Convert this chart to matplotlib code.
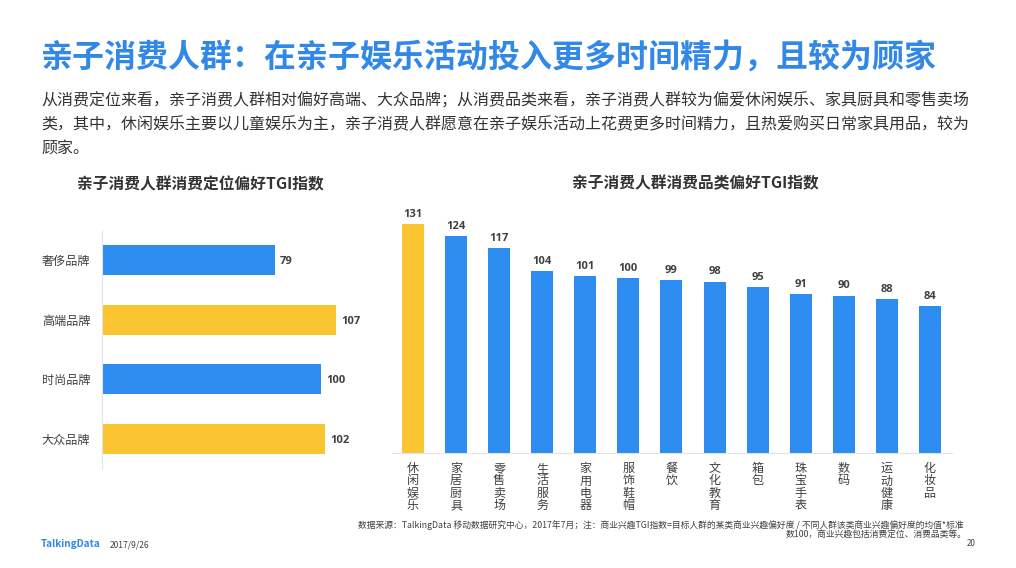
#!/usr/bin/env python
import matplotlib
matplotlib.use("Agg")
import matplotlib.pyplot as plt

plt.rcParams["font.family"] = ["Noto Sans CJK SC", "DejaVu Sans"]

W, H = 1016, 568

title = "亲子消费人群：在亲子娱乐活动投入更多时间精力，且较为顾家"
body_lines = [
    "从消费定位来看，亲子消费人群相对偏好高端、大众品牌；从消费品类来看，亲子消费人群较为偏爱休闲娱乐、家具厨具和零售卖场",
    "类，其中，休闲娱乐主要以儿童娱乐为主，亲子消费人群愿意在亲子娱乐活动上花费更多时间精力，且热爱购买日常家具用品，较为",
    "顾家。",
]
left_title = "亲子消费人群消费定位偏好TGI指数"
right_title = "亲子消费人群消费品类偏好TGI指数"

positions = ["奢侈品牌", "高端品牌", "时尚品牌", "大众品牌"]
position_tgi = [79, 107, 100, 102]
categories = ["休闲娱乐", "家居厨具", "零售卖场", "生活服务", "家用电器", "服饰鞋帽", "餐饮",
              "文化教育", "箱包", "珠宝手表", "数码", "运动健康", "化妆品"]
category_tgi = [131, 124, 117, 104, 101, 100, 99, 98, 95, 91, 90, 88, 84]

BLUE = "#2d8cf0"
YELLOW = "#fbc531"
AXIS = "#dfe4ee"
TEXT = "#404040"


def px_axes(fig, x0, y0, x1, y1):
    # pixel box, y measured from the top of the image
    return fig.add_axes([x0 / W, 1 - y1 / H, (x1 - x0) / W, (y1 - y0) / H])


def px_text(fig, x, y, s, **kw):
    kw.setdefault("va", "center")
    kw.setdefault("color", TEXT)
    fig.text(x / W, 1 - y / H, s, **kw)


fig = plt.figure(figsize=(W / 100, H / 100), dpi=100, facecolor="white")

px_text(fig, 41, 58, title, fontsize=23, color="#3288e6", fontweight="bold")
for y, line in zip([101, 125, 148], body_lines):
    px_text(fig, 41, y, line, fontsize=11.5, color="#333333")
px_text(fig, 200, 184, left_title, fontsize=11.3, fontweight="bold", ha="center", color="#333333")
px_text(fig, 695, 183, right_title, fontsize=11.3, fontweight="bold", ha="center", color="#333333")

# left chart
ax = px_axes(fig, 101.5, 230, 375, 469)
bars = ax.barh(range(len(positions)), position_tgi, height=0.5,
               color=[BLUE, YELLOW, BLUE, YELLOW])
ax.set_xlim(0, (375 - 101.5) / 2.19)
ax.set_ylim(len(positions) - 0.5, -0.5)
ax.set_yticks(range(len(positions)), positions, fontsize=8.7, color=TEXT)
ax.tick_params(axis="y", length=0, pad=8)
ax.set_xticks([])
ax.patch.set_visible(False)
for s in ["top", "right", "bottom"]:
    ax.spines[s].set_visible(False)
ax.spines["left"].set_color(AXIS)
labels = ax.bar_label(bars, padding=4, fontsize=8, fontweight="bold", color=TEXT, family="Open Sans")
for lab in labels:
    lab.xyann = (4, -1)

# right chart
ax2 = px_axes(fig, 391.5, 205, 951.5, 452.5)
bars2 = ax2.bar(range(len(categories)), category_tgi, width=0.51,
                color=[YELLOW] + [BLUE] * (len(categories) - 1))
ax2.set_xlim((391.5 - 413) / 43.08, (951.5 - 413) / 43.08)
ax2.set_ylim(0, 247.5 / 1.744)
ax2.set_yticks([])
ax2.set_xticks(range(len(categories)), ["\n".join(c) for c in categories],
               fontsize=8.7, color=TEXT, linespacing=0.92, va="top")
ax2.tick_params(axis="x", length=0, pad=7)
ax2.patch.set_visible(False)
for s in ["top", "right", "left"]:
    ax2.spines[s].set_visible(False)
ax2.spines["bottom"].set_color(AXIS)
ax2.bar_label(bars2, padding=3, fontsize=8, fontweight="bold", color=TEXT, family="Open Sans")

# footer
px_text(fig, 358, 525,
        "数据来源：TalkingData 移动数据研究中心，2017年7月；注：商业兴趣TGI指数=目标人群的某类商业兴趣偏好度 / 不同人群该类商业兴趣偏好度的均值*标准",
        fontsize=6.33, color="#404040")
px_text(fig, 967, 535, "数100，商业兴趣包括消费定位、消费品类等。", fontsize=6.33, ha="right", color="#404040")
px_text(fig, 41, 544, "TalkingData", fontsize=7.2, fontweight="bold", color="#3288e6")
px_text(fig, 110, 545, "2017/9/26", fontsize=6.1)
px_text(fig, 976, 544, "20", fontsize=5.8, ha="right")

fig.savefig("out.png", dpi=100)
